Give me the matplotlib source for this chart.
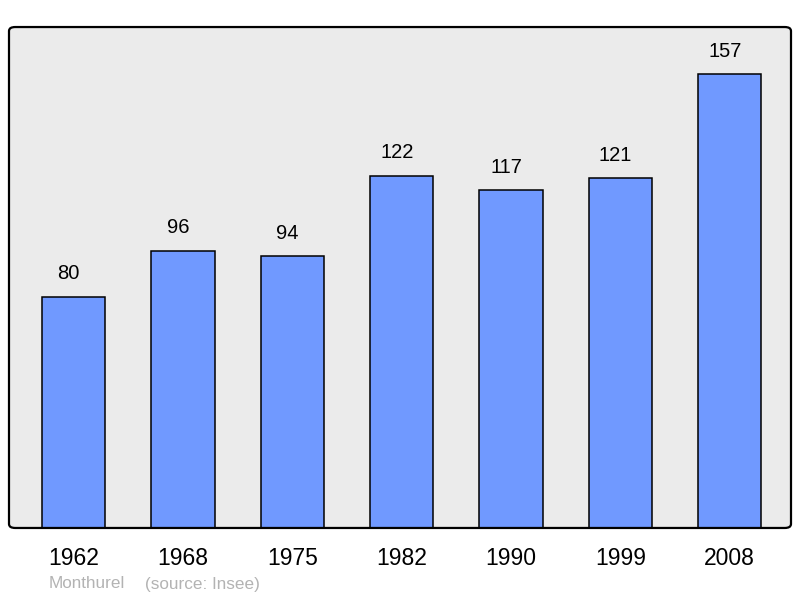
import matplotlib.pyplot as plt
from matplotlib.patches import FancyBboxPatch

plt.rcParams['font.family'] = ['Liberation Sans', 'DejaVu Sans']

years = ['1962', '1968', '1975', '1982', '1990', '1999', '2008']
population = [80, 96, 94, 122, 117, 121, 157]
town = 'Monthurel'
source = '(source: Insee)'

fig = plt.figure(figsize=(8, 5.98), dpi=100)
ax = fig.add_axes([0.01125, 0.1171, 0.9775, 0.8377])
ax.set_facecolor('#ebebeb')

x = list(range(len(years)))
ax.bar(x, population, width=0.58, color='#7099ff', edgecolor='black', linewidth=1.1, zorder=2)

for xi, v in zip(x, population):
    ax.annotate(str(v), (xi, v), xytext=(-3.5, 16.5), textcoords='offset points',
                ha='center', va='center', fontsize=14.5)

ax.set_xlim(-0.59, 6.56)
ax.set_ylim(0, 173.4)
ax.set_yticks([])
ax.set_xticks(x)
ax.set_xticklabels(years, fontsize=16.5)
ax.tick_params(axis='x', length=0, pad=14)

for s in ax.spines.values():
    s.set_visible(False)
frame = FancyBboxPatch((0, 0), 1, 1, boxstyle='round,pad=0,rounding_size=0.008',
                       transform=ax.transAxes, facecolor='none', edgecolor='black',
                       linewidth=1.6, clip_on=False, zorder=3)
ax.add_patch(frame)

fig.text(49 / 800, 1 - 584 / 598, town, color='#b3b3b3', fontsize=12.3, va='center')
fig.text(145 / 800, 1 - 584 / 598, source, color='#b3b3b3', fontsize=12.3, va='center')

fig.savefig('out.png', dpi=100)
